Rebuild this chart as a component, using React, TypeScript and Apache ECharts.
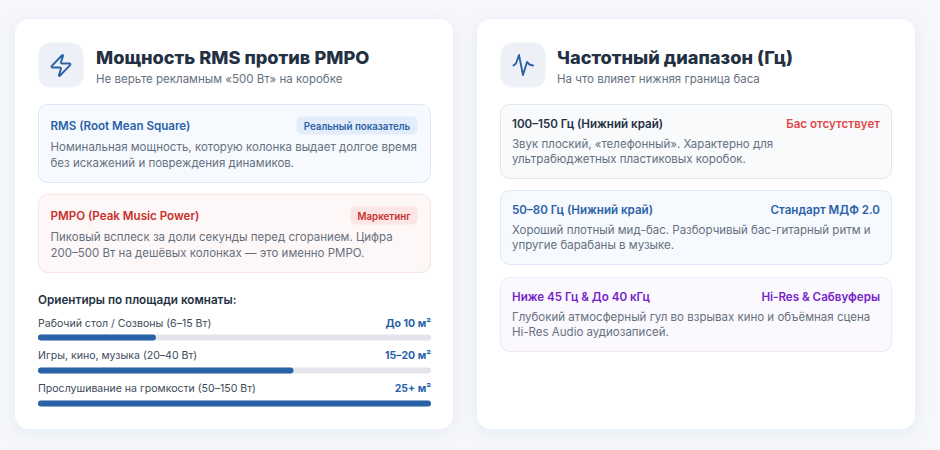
import { useEffect, useRef } from 'react'
import * as echarts from 'echarts'

const FONT = 'Inter, "Noto Sans", sans-serif'
const NAVY = '#243143'
const GRAY = '#667180'
const BLUE = '#2a62a8'
const RED = '#c9302c'
const SOFT_RED = '#e04848'
const PURPLE = '#7424c9'

const roomLabels = ['Рабочий стол / Созвоны (6–15 Вт)', 'Игры, кино, музыка (20–40 Вт)', 'Прослушивание на громкости (50–150 Вт)']
const roomAreas = ['До 10 м²', '15–20 м²', '25+ м²']
const roomValues = [30, 65, 100]

const leftCards = [
  { y: 104, h: 79, fill: '#f6f9fe', border: '#dfe8f8', titleColor: BLUE, title: 'RMS (Root Mean Square)', tag: 'Реальный показатель', tagFill: '#e3ecfa', tagW: 122, lines: ['Номинальная мощность, которую колонка выдает долгое время', 'без искажений и повреждения динамиков.'] },
  { y: 194, h: 79, fill: '#fef7f7', border: '#fae3e3', titleColor: RED, title: 'PMPO (Peak Music Power)', tag: 'Маркетинг', tagFill: '#fbe5e5', tagW: 68, lines: ['Пиковый всплеск за доли секунды перед сгоранием. Цифра', '200–500 Вт на дешёвых колонках — это именно PMPO.'] },
]
const rightCards = [
  { y: 104, fill: '#f8fafc', border: '#e3e7ed', titleColor: NAVY, noteColor: SOFT_RED, title: '100–150 Гц (Нижний край)', note: 'Бас отсутствует', lines: ['Звук плоский, «телефонный». Характерно для', 'ультрабюджетных пластиковых коробок.'] },
  { y: 190, fill: '#f6f9fe', border: '#dfe8f8', titleColor: BLUE, noteColor: BLUE, title: '50–80 Гц (Нижний край)', note: 'Стандарт МДФ 2.0', lines: ['Хороший плотный мид-бас. Разборчивый бас-гитарный ритм и', 'упругие барабаны в музыке.'] },
  { y: 277, fill: '#fbf8fe', border: '#f1e8fb', titleColor: PURPLE, noteColor: PURPLE, title: 'Ниже 45 Гц & До 40 кГц', note: 'Hi-Res & Сабвуферы', lines: ['Глубокий атмосферный гул во взрывах кино и объёмная сцена', 'Hi-Res Audio аудиозаписей.'] },
]

echarts.graphic.registerShape('zapIcon', echarts.graphic.extendPath('M4 14a1 1 0 0 1-.78-1.63l9.9-10.2a.5.5 0 0 1 .86.46l-1.92 6.02A1 1 0 0 0 13 10h7a1 1 0 0 1 .78 1.63l-9.9 10.2a.5.5 0 0 1-.86-.46l1.92-6.02A1 1 0 0 0 11 14z', {}))

function txt(x: number, y: number, text: string, size: number, weight: number, fill: string, align = 'left', scaleX = 1) {
  return { type: 'text', x, y, scaleX, style: { text, fontSize: size, fontWeight: weight, fontFamily: FONT, fill, align, verticalAlign: 'middle' } }
}

function box(x: number, y: number, w: number, h: number, r: number, fill: string, stroke?: string) {
  return { type: 'rect', shape: { x: x + 0.5, y: y + 0.5, width: w - 1, height: h - 1, r }, style: { fill, stroke: stroke ?? 'transparent', lineWidth: 1 } }
}

function panel(x: number) {
  return {
    type: 'rect',
    shape: { x, y: 19, width: 438, height: 410, r: 14 },
    style: { fill: '#fff', shadowBlur: 16, shadowColor: 'rgba(40,60,100,0.06)', shadowOffsetY: 3 },
  }
}

function buildGraphics() {
  const els: any[] = [panel(15), panel(477)]

  // шапка слева
  els.push(box(38, 42, 46, 46, 12, '#edf1f7'))
  els.push({ type: 'zapIcon', x: 48.5, y: 53, scaleX: 1.04, scaleY: 1.04, style: { fill: 'none', stroke: BLUE, lineWidth: 1.9, lineJoin: 'round' } })
  els.push(txt(96, 58, 'Мощность RMS против PMPO', 17.5, 800, NAVY, 'left', 1.04))
  els.push(txt(96, 79, 'Не верьте рекламным «500 Вт» на коробке', 11.5, 400, GRAY))

  for (const c of leftCards) {
    els.push(box(38, c.y, 393, c.h, 9, c.fill, c.border))
    els.push(txt(50.5, c.y + 22, c.title, 11.6, 600, c.titleColor))
    els.push(box(418 - c.tagW, c.y + 12, c.tagW, 19, 5, c.tagFill))
    els.push(txt(418 - c.tagW / 2, c.y + 22, c.tag, 9.75, 600, c.titleColor, 'center'))
    c.lines.forEach((l, i) => els.push(txt(50.5, c.y + 43 + i * 15.5, l, 11.5, 400, GRAY)))
  }

  els.push(txt(38, 300, 'Ориентиры по площади комнаты:', 11.7, 600, NAVY))
  roomLabels.forEach((l, i) => {
    els.push(txt(38, 323 + i * 32.7, l, 10.55, 400, '#3d4a5a'))
    els.push(txt(431, 323 + i * 32.7, roomAreas[i], 10.5, 700, BLUE, 'right'))
  })

  // шапка справа
  els.push(box(500, 42, 46, 46, 12, '#edf1f7'))
  els.push({
    type: 'polyline',
    shape: { points: [[513.5, 65.5], [516, 63.5], [519, 55], [523, 75], [527, 62], [529.5, 64.5], [533, 65.5]] },
    style: { fill: 'none', stroke: BLUE, lineWidth: 1.9, lineJoin: 'round', lineCap: 'round' },
  })
  els.push(txt(557, 58, 'Частотный диапазон (Гц)', 17.5, 800, NAVY, 'left', 1.04))
  els.push(txt(557, 79, 'На что влияет нижняя граница баса', 11.5, 400, GRAY))

  for (const c of rightCards) {
    els.push(box(500, c.y, 392, 75, 9, c.fill, c.border))
    els.push(txt(512, c.y + 20, c.title, 11.6, 600, c.titleColor))
    els.push(txt(880, c.y + 20, c.note, 11.6, 600, c.noteColor, 'right'))
    c.lines.forEach((l, i) => els.push(txt(512, c.y + 39.5 + i * 15.5, l, 11.5, 400, GRAY)))
  }
  return els
}

export default function App() {
  const ref = useRef<HTMLDivElement>(null)

  useEffect(() => {
    document.body.style.margin = '0'
    if (!ref.current) return
    const chart = echarts.init(ref.current, undefined, { renderer: 'svg' })
    chart.setOption({
      animation: false,
      backgroundColor: '#f5f7fb',
      grid: { left: 38, top: 321, width: 393, height: 99 },
      xAxis: { type: 'value', min: 0, max: 100, show: false },
      yAxis: { type: 'category', inverse: true, data: roomLabels, show: false },
      graphic: { elements: buildGraphics() },
      series: [{
        type: 'bar',
        data: roomValues,
        barWidth: 6,
        silent: true,
        showBackground: true,
        backgroundStyle: { color: '#e3e5ea', borderRadius: 3 },
        itemStyle: { color: BLUE, borderRadius: 3 },
        z: 10,
      }],
    })
    return () => chart.dispose()
  }, [])

  return <div ref={ref} style={{ width: 940, height: 450 }} />
}
